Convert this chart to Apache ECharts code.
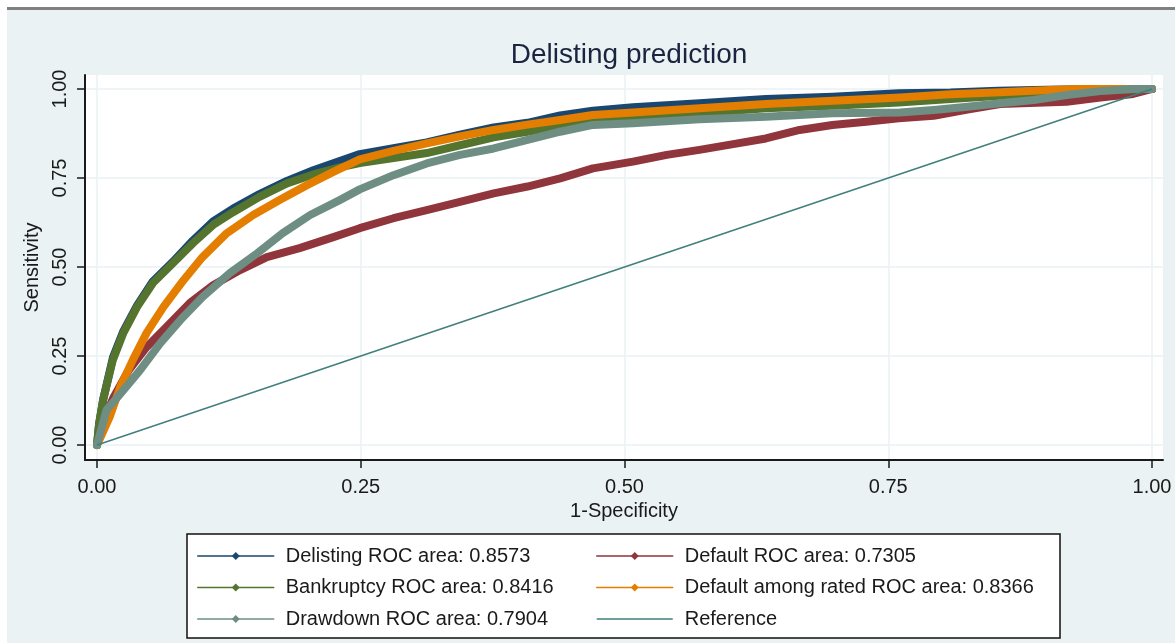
<!DOCTYPE html>
<html>
<head>
<meta charset="utf-8">
<script src="https://cdn.jsdelivr.net/npm/echarts@6/dist/echarts.min.js"></script>
<style>
  html, body { margin: 0; padding: 0; background: #fff; }
  #chart { width: 1175px; height: 643px; }
</style>
</head>
<body>
<div id="chart"></div>
<script>
// ROC points: [1-specificity, sensitivity]
var delisting = [[0,0],[0.002,0.06],[0.006,0.13],[0.015,0.245],[0.025,0.32],[0.038,0.392],[0.053,0.46],[0.072,0.515],[0.091,0.575],[0.11,0.628],[0.129,0.664],[0.154,0.705],[0.18,0.742],[0.205,0.772],[0.23,0.798],[0.249,0.817],[0.281,0.834],[0.3125,0.85],[0.344,0.872],[0.376,0.892],[0.408,0.905],[0.439,0.926],[0.47,0.939],[0.508,0.949],[0.571,0.96],[0.634,0.972],[0.697,0.978],[0.76,0.988],[0.809,0.99],[0.854,0.995],[0.9,0.998],[0.95,1],[1,1]];
var defaultRoc = [[0,0],[0.005,0.06],[0.015,0.13],[0.03,0.21],[0.047,0.275],[0.066,0.332],[0.088,0.399],[0.11,0.449],[0.136,0.492],[0.161,0.528],[0.192,0.553],[0.224,0.584],[0.249,0.609],[0.281,0.637],[0.3125,0.66],[0.344,0.683],[0.376,0.707],[0.408,0.726],[0.439,0.749],[0.47,0.777],[0.508,0.796],[0.54,0.815],[0.571,0.829],[0.603,0.845],[0.634,0.861],[0.666,0.885],[0.697,0.899],[0.729,0.908],[0.76,0.918],[0.793,0.925],[0.825,0.942],[0.856,0.958],[0.919,0.964],[0.951,0.976],[0.982,0.986],[1,1]];
var bankruptcy = [[0,0],[0.002,0.06],[0.0057,0.126],[0.015,0.239],[0.025,0.315],[0.038,0.388],[0.053,0.455],[0.072,0.511],[0.091,0.567],[0.11,0.618],[0.129,0.654],[0.154,0.697],[0.18,0.735],[0.205,0.76],[0.23,0.78],[0.249,0.792],[0.281,0.806],[0.3125,0.82],[0.344,0.842],[0.376,0.864],[0.408,0.88],[0.439,0.895],[0.47,0.908],[0.508,0.918],[0.571,0.932],[0.634,0.946],[0.697,0.953],[0.76,0.962],[0.809,0.972],[0.856,0.981],[0.919,0.99],[0.97,0.998],[1,1]];
var ratedDefault = [[0,0],[0.012,0.079],[0.022,0.163],[0.034,0.239],[0.047,0.315],[0.063,0.388],[0.082,0.463],[0.1,0.528],[0.123,0.595],[0.148,0.646],[0.173,0.688],[0.199,0.73],[0.224,0.767],[0.249,0.802],[0.281,0.826],[0.3125,0.847],[0.344,0.867],[0.376,0.885],[0.408,0.9],[0.439,0.913],[0.47,0.927],[0.508,0.934],[0.571,0.946],[0.634,0.958],[0.697,0.967],[0.761,0.976],[0.809,0.985],[0.856,0.991],[0.903,0.997],[0.93,1],[1,1]];
var drawdown = [[0,0],[0.009,0.098],[0.025,0.154],[0.041,0.211],[0.06,0.286],[0.079,0.351],[0.1,0.416],[0.126,0.483],[0.152,0.539],[0.176,0.595],[0.202,0.646],[0.23,0.688],[0.249,0.718],[0.281,0.758],[0.3125,0.791],[0.344,0.815],[0.376,0.833],[0.408,0.857],[0.439,0.88],[0.47,0.899],[0.508,0.904],[0.571,0.915],[0.634,0.922],[0.697,0.932],[0.761,0.934],[0.793,0.941],[0.825,0.95],[0.856,0.96],[0.888,0.969],[0.919,0.983],[0.951,0.994],[0.982,1],[1,1]];
var reference = [[0,0],[1,1]];

var names = ['Delisting ROC area: 0.8573', 'Default ROC area: 0.7305', 'Bankruptcy ROC area: 0.8416',
  'Default among rated ROC area: 0.8366', 'Drawdown ROC area: 0.7904', 'Reference'];
var colors = ['#1a476f', '#90353b', '#55752f', '#e37e00', '#6e8e84', '#3f7f7c'];
var ticks = [0, 0.25, 0.5, 0.75, 1];

var font = 'Liberation Sans, Arial, sans-serif';
var chart = echarts.init(document.getElementById('chart'));

function roc(i, data) {
  return {
    name: names[i],
    type: 'line',
    data: data,
    symbol: 'diamond',
    showSymbol: false,
    lineStyle: { width: 8, color: colors[i], join: 'round', cap: 'round' },
    itemStyle: { color: colors[i] },
    emphasis: { disabled: true },
    animation: false
  };
}

var legendCommon = {
  orient: 'vertical',
  top: 546,
  padding: 0,
  itemWidth: 76,
  itemHeight: 10,
  itemGap: 11.5,
  z: 5,
  selectedMode: false,
  lineStyle: { width: 1.5 },
  textStyle: { fontFamily: font, fontSize: 20, color: '#1a1a1a', lineHeight: 20, padding: [0, 0, 0, 7] }
};

var option = {
  backgroundColor: '#eaf2f3',
  animation: false,
  color: colors,
  title: {
    text: 'Delisting prediction',
    left: 624,
    textAlign: 'center',
    top: 36,
    textStyle: { fontFamily: font, fontSize: 28, fontWeight: 'normal', color: '#1a2340' }
  },
  graphic: [
    { type: 'rect', shape: { x: 0, y: 0, width: 1175, height: 7 }, style: { fill: '#fff' }, z: 1 },
    { type: 'rect', shape: { x: 0, y: 0, width: 7, height: 643 }, style: { fill: '#fff' }, z: 1 },
    { type: 'rect', shape: { x: 7, y: 7, width: 1168, height: 3 }, style: { fill: '#808080' }, z: 1 },
    { type: 'rect', shape: { x: 187, y: 534, width: 873, height: 104 },
      style: { fill: '#fff', stroke: '#111', lineWidth: 1.5 }, z: 1 }
  ],
  legend: [
    Object.assign({}, legendCommon, { left: 197, data: [names[0], names[2], names[4]] }),
    Object.assign({}, legendCommon, { left: 596, data: [names[1], names[3],
      { name: names[5], icon: 'path://M0,4.2 L76,4.2 L76,5.8 L0,5.8 Z' }] })
  ],
  grid: {
    left: 85, right: 12, top: 75, bottom: 183,
    show: true, backgroundColor: '#fff', borderWidth: 0
  },
  xAxis: {
    type: 'value',
    min: -0.0114, max: 1.0104,
    name: '1-Specificity',
    nameLocation: 'middle',
    nameGap: 38,
    nameTextStyle: { fontFamily: font, fontSize: 20, color: '#1a1a1a' },
    axisLine: { show: true, onZero: false, lineStyle: { color: '#1a1a1a', width: 2 } },
    axisTick: { show: true, length: 8, customValues: ticks, lineStyle: { color: '#1a1a1a', width: 1.5 } },
    axisLabel: { customValues: ticks, margin: 17, fontFamily: font, fontSize: 20, color: '#1a1a1a',
      formatter: function (v) { return v.toFixed(2); } },
    splitLine: { show: true, lineStyle: { color: '#eaf2f3', width: 1.5 } }
  },
  yAxis: {
    type: 'value',
    min: -0.0421, max: 1.0393,
    name: 'Sensitivity',
    nameLocation: 'middle',
    nameRotate: 90,
    nameGap: 35,
    nameTextStyle: { fontFamily: font, fontSize: 20, color: '#1a1a1a' },
    axisLine: { show: true, onZero: false, lineStyle: { color: '#1a1a1a', width: 2 } },
    axisTick: { show: true, length: 8, customValues: ticks, lineStyle: { color: '#1a1a1a', width: 1.5 } },
    axisLabel: { customValues: ticks, rotate: 90, margin: 15, fontFamily: font, fontSize: 20, color: '#1a1a1a',
      formatter: function (v) { return v.toFixed(2); } },
    splitLine: { show: true, lineStyle: { color: '#eaf2f3', width: 1.5 } }
  },
  series: [
    roc(0, delisting),
    roc(1, defaultRoc),
    roc(2, bankruptcy),
    roc(3, ratedDefault),
    roc(4, drawdown),
    {
      name: names[5],
      type: 'line',
      data: reference,
      symbol: 'none',
      lineStyle: { width: 1.5, color: colors[5] },
      itemStyle: { color: colors[5] },
      emphasis: { disabled: true },
      animation: false
    }
  ]
};

chart.setOption(option);
</script>
</body>
</html>
